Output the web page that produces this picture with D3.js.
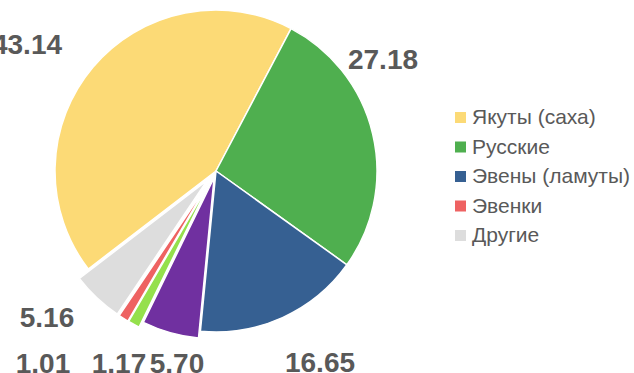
<!DOCTYPE html>
<html>
<head>
<meta charset="utf-8">
<script src="https://cdn.jsdelivr.net/npm/d3@7"></script>
<style>
  html, body { margin: 0; padding: 0; background: #fff; }
  svg { display: block; }
</style>
</head>
<body>
<svg id="chart" width="634" height="373"></svg>
<script>
// Ethnic composition, percent
const groups = ["Якуты (саха)", "Русские", "Эвены (ламуты)", "Прочие-1", "Прочие-2", "Эвенки", "Другие"];
const shares = [43.14, 27.18, 16.65, 5.70, 1.17, 1.01, 5.16];
const colors = ["#FCDA76", "#4FAF4F", "#366092", "#7030A0", "#95E04C", "#EE6262", "#DDDDDD"];
// Only these groups appear in the legend
const legendGroups = ["Якуты (саха)", "Русские", "Эвены (ламуты)", "Эвенки", "Другие"];

// Layout
const cx = 216, cy = 171, radius = 161;
const explode = [0, 0, 0, 7, 13, 13, 13];
const labelAnchors = [[27, 54], [383, 69], [320, 372], [177, 373], [119, 373], [43, 373], [47, 327]];

const svg = d3.select("#chart");
const data = groups.map((g, i) => ({ group: g, value: shares[i], color: colors[i], i }));

const pie = d3.pie()
  .sort(null)
  .value(d => d.value)
  .startAngle(-127.5 * Math.PI / 180)
  .endAngle((360 - 127.5) * Math.PI / 180);

const arc = d3.arc().innerRadius(0).outerRadius(radius);
const arcs = pie(data);

const g = svg.append("g").attr("transform", `translate(${cx},${cy})`);

g.selectAll("path.slice")
  .data(arcs)
  .join("path")
  .attr("class", "slice")
  .attr("d", arc)
  .attr("fill", d => d.data.color)
  .attr("stroke", "#fff")
  .attr("stroke-width", 1.5)
  .attr("stroke-linejoin", "round")
  .attr("transform", d => {
    const a = (d.startAngle + d.endAngle) / 2;
    const off = explode[d.data.i];
    return `translate(${off * Math.sin(a)},${-off * Math.cos(a)})`;
  });

// Value labels
svg.selectAll("text.value")
  .data(arcs)
  .join("text")
  .attr("class", "value")
  .attr("x", d => labelAnchors[d.data.i][0])
  .attr("y", d => labelAnchors[d.data.i][1])
  .attr("text-anchor", "middle")
  .attr("font-family", "'Liberation Sans', Arial, sans-serif")
  .attr("font-weight", "bold")
  .attr("font-size", 28)
  .attr("fill", "#595959")
  .text(d => d3.format(".2f")(d.data.value));

// Legend
const legendData = data.filter(d => legendGroups.includes(d.group));
const legend = svg.append("g").attr("transform", "translate(455,112)");
const rows = legend.selectAll("g.row")
  .data(legendData)
  .join("g")
  .attr("class", "row")
  .attr("transform", (d, k) => `translate(0,${k * 29.5})`);

rows.append("rect")
  .attr("width", 11)
  .attr("height", 11)
  .attr("fill", d => d.color);

rows.append("text")
  .attr("x", 17)
  .attr("y", 12)
  .attr("font-family", "'Liberation Sans', Arial, sans-serif")
  .attr("font-size", 21)
  .attr("fill", "#595959")
  .text(d => d.group);
</script>
</body>
</html>
